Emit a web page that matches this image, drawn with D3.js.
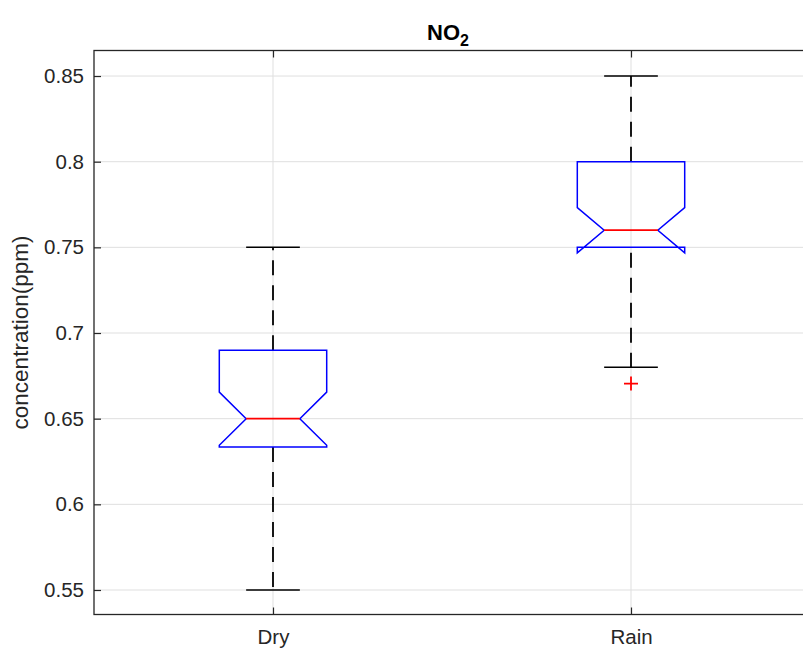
<!DOCTYPE html>
<html>
<head>
<meta charset="utf-8">
<script src="https://cdn.jsdelivr.net/npm/d3@7"></script>
<style>
  body { margin: 0; background: #fff; }
  svg { display: block; font-family: "Liberation Sans", Arial, sans-serif; }
</style>
</head>
<body>
<script>
// Box statistics
const groups = ["Dry", "Rain"];
const whiskerLow = [0.55, 0.68];
const q1 = [0.6335, 0.75];
const medians = [0.65, 0.76];
const q3 = [0.69, 0.80];
const whiskerHigh = [0.75, 0.85];
const notchLow = [0.6345, 0.7468];
const notchHigh = [0.6655, 0.7732];
const outliers = [[], [0.6705]];
const yTicks = [0.55, 0.6, 0.65, 0.7, 0.75, 0.8, 0.85];

// Figure frame
const W = 803, H = 655;
const margin = { top: 50.5, bottom: 614.5, left: 94, right: 810 };

const svg = d3.select("body").append("svg")
  .attr("width", W)
  .attr("height", H);

const x = d3.scaleLinear().domain([0.5, 2.5]).range([margin.left, margin.right]);
const y = d3.scaleLinear().domain([0.5357, 0.8649]).range([margin.bottom, margin.top]);

// Grid lines
svg.append("g")
  .selectAll("line.gy")
  .data(yTicks)
  .join("line")
  .attr("x1", margin.left).attr("x2", margin.right)
  .attr("y1", d => y(d)).attr("y2", d => y(d))
  .attr("stroke", "#dfdfdf").attr("stroke-width", 1);

svg.append("g")
  .selectAll("line.gx")
  .data(groups)
  .join("line")
  .attr("x1", (d, i) => x(i + 1)).attr("x2", (d, i) => x(i + 1))
  .attr("y1", margin.top).attr("y2", margin.bottom)
  .attr("stroke", "#dfdfdf").attr("stroke-width", 1);

// Axes (MATLAB style: ticks inside, box on)
const axisColor = "#262626";
const yAxis = d3.axisLeft(y).tickValues(yTicks).tickSizeInner(-7).tickSizeOuter(0).tickPadding(10)
  .tickFormat(d => d3.format("")(+d.toFixed(2)));
const gy = svg.append("g").attr("transform", `translate(${margin.left},0)`).call(yAxis);
gy.select(".domain").remove();
gy.selectAll("line").attr("stroke", axisColor).attr("stroke-width", 1.2);
gy.selectAll("text").attr("font-size", 20.5).attr("fill", axisColor);

const gyR = svg.append("g").attr("transform", `translate(${margin.right},0)`)
  .call(d3.axisRight(y).tickValues(yTicks).tickSizeInner(-7).tickSizeOuter(0).tickFormat(""));
gyR.select(".domain").remove();
gyR.selectAll("line").attr("stroke", axisColor).attr("stroke-width", 1.2);

const xAxis = d3.axisBottom(x).tickValues([1, 2]).tickSizeInner(-7).tickSizeOuter(0).tickPadding(15)
  .tickFormat(d => groups[d - 1]);
const gx = svg.append("g").attr("transform", `translate(0,${margin.bottom})`).call(xAxis);
gx.select(".domain").remove();
gx.selectAll("line").attr("stroke", axisColor).attr("stroke-width", 1.2);
gx.selectAll("text").attr("font-size", 20.5).attr("fill", axisColor);

const gxT = svg.append("g").attr("transform", `translate(0,${margin.top})`)
  .call(d3.axisTop(x).tickValues([1, 2]).tickSizeInner(-7).tickSizeOuter(0).tickFormat(""));
gxT.select(".domain").remove();
gxT.selectAll("line").attr("stroke", axisColor).attr("stroke-width", 1.2);

svg.append("rect")
  .attr("x", margin.left).attr("y", margin.top)
  .attr("width", margin.right - margin.left).attr("height", margin.bottom - margin.top)
  .attr("fill", "none").attr("stroke", axisColor).attr("stroke-width", 1.3);

// Boxes
const halfBox = 0.15, halfNotch = 0.075, halfCap = 0.075;

groups.forEach((g, i) => {
  const c = i + 1;
  const box = svg.append("g");

  // whiskers
  box.append("line")
    .attr("x1", x(c)).attr("x2", x(c))
    .attr("y1", y(q3[i])).attr("y2", y(whiskerHigh[i]))
    .attr("stroke", "#000").attr("stroke-width", 1.8).attr("stroke-dasharray", "15,10");
  box.append("line")
    .attr("x1", x(c)).attr("x2", x(c))
    .attr("y1", y(Math.min(q1[i], notchLow[i]))).attr("y2", y(whiskerLow[i]))
    .attr("stroke", "#000").attr("stroke-width", 1.8).attr("stroke-dasharray", "15,10");
  [whiskerLow[i], whiskerHigh[i]].forEach(v => {
    box.append("line")
      .attr("x1", x(c - halfCap)).attr("x2", x(c + halfCap))
      .attr("y1", y(v)).attr("y2", y(v))
      .attr("stroke", "#000").attr("stroke-width", 1.5);
  });

  // notched box outline
  const pts = [
    [c - halfBox, q3[i]], [c + halfBox, q3[i]],
    [c + halfBox, notchHigh[i]], [c + halfNotch, medians[i]],
    [c + halfBox, notchLow[i]], [c + halfBox, q1[i]],
    [c - halfBox, q1[i]], [c - halfBox, notchLow[i]],
    [c - halfNotch, medians[i]], [c - halfBox, notchHigh[i]]
  ];
  box.append("path")
    .attr("d", d3.line().x(d => x(d[0])).y(d => y(d[1]))(pts) + "Z")
    .attr("fill", "none").attr("stroke", "#0000ff").attr("stroke-width", 1.5);

  // median
  box.append("line")
    .attr("x1", x(c - halfNotch)).attr("x2", x(c + halfNotch))
    .attr("y1", y(medians[i])).attr("y2", y(medians[i]))
    .attr("stroke", "#ff0000").attr("stroke-width", 1.8);

  // outliers
  outliers[i].forEach(v => {
    box.append("path")
      .attr("d", `M${x(c) - 7},${y(v)}H${x(c) + 7}M${x(c)},${y(v) - 7}V${y(v) + 7}`)
      .attr("stroke", "#ff0000").attr("stroke-width", 1.8);
  });
});

// Title and label
const title = svg.append("text")
  .attr("x", (margin.left + margin.right) / 2 - 4).attr("y", 40)
  .attr("text-anchor", "middle")
  .attr("font-size", 22).attr("font-weight", "bold").attr("fill", "#000");
title.append("tspan").text("NO");
title.append("tspan").attr("dy", 6).attr("font-size", 16).text("2");

svg.append("text")
  .attr("transform", `translate(28,${(margin.top + margin.bottom) / 2}) rotate(-90)`)
  .attr("text-anchor", "middle")
  .attr("font-size", 22.5).attr("fill", axisColor)
  .text("concentration(ppm)");
</script>
</body>
</html>
